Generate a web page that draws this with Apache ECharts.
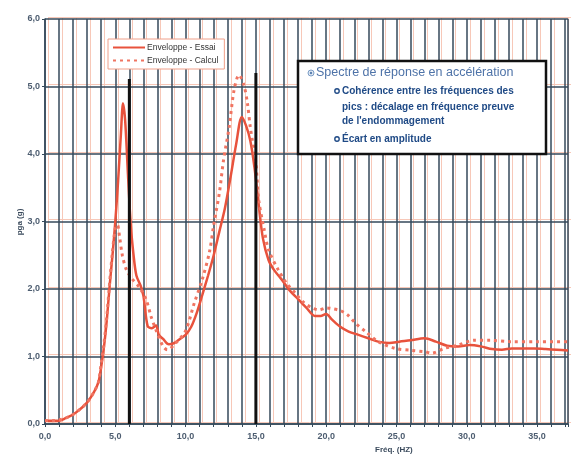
<!DOCTYPE html>
<html>
<head>
<meta charset="utf-8">
<script src="https://cdn.jsdelivr.net/npm/echarts@6/dist/echarts.min.js"></script>
<style>html,body{margin:0;padding:0;background:#fff}#c{width:571px;height:456px}</style>
</head>
<body>
<div id="c"></div>
<script>
const seriesNames = ['Enveloppe - Essai', 'Enveloppe - Calcul'];
const freqEssai = [0,0.5,1.0,1.5,2.0,2.5,3.0,3.5,3.8,4.0,4.2,4.4,4.6,4.8,5.0,5.2,5.4,5.55,5.7,5.9,6.1,6.3,6.5,6.8,7.0,7.3,7.6,7.9,8.1,8.4,8.8,9.2,9.6,10.0,10.4,10.8,11.2,11.6,12.0,12.4,12.8,13.2,13.6,14.0,14.3,14.6,14.9,15.2,15.5,15.9,16.3,16.8,17.4,18.0,18.6,19.2,19.6,20.0,20.4,21.0,21.6,22.3,23.0,23.7,24.5,25.2,26.0,27.0,27.8,28.6,29.4,30.2,31.0,31.8,32.5,33.2,34.0,34.8,35.6,36.4,37.2];
const valEssai = [0.05,0.05,0.05,0.09,0.14,0.22,0.32,0.48,0.62,0.85,1.15,1.55,2.05,2.5,3.0,3.6,4.3,4.75,4.5,3.7,2.95,2.5,2.2,2.05,1.9,1.45,1.42,1.46,1.32,1.26,1.18,1.2,1.26,1.32,1.44,1.65,1.92,2.2,2.5,2.85,3.2,3.66,4.15,4.55,4.42,4.2,3.8,3.25,2.75,2.43,2.28,2.15,1.98,1.85,1.72,1.6,1.6,1.63,1.55,1.44,1.37,1.32,1.27,1.22,1.2,1.22,1.24,1.27,1.22,1.16,1.15,1.17,1.15,1.11,1.1,1.12,1.12,1.12,1.11,1.1,1.09];
const freqCalcul = [0,0.5,1.0,1.5,2.0,2.5,3.0,3.5,3.8,4.0,4.2,4.4,4.6,4.8,5.0,5.15,5.3,5.5,5.8,6.2,6.7,7.2,7.55,7.9,8.4,8.7,9.3,10.0,10.6,11.2,11.7,12.0,12.4,12.7,13.1,13.45,13.8,14.15,14.4,14.6,15.0,15.2,15.6,15.9,16.6,17.2,17.8,18.4,19.0,19.5,20.0,20.4,21.0,21.5,22.1,22.8,23.7,24.9,26.1,27.0,27.5,28.4,29.4,30.5,31.7,33.1,35.0,37.2];
const valCalcul = [0.05,0.05,0.06,0.09,0.14,0.22,0.32,0.48,0.62,0.9,1.2,1.6,2.1,2.55,2.9,2.95,2.78,2.5,2.28,2.15,2.03,1.84,1.59,1.39,1.15,1.1,1.2,1.38,1.78,2.15,2.55,2.95,3.42,3.91,4.4,4.95,5.17,5.02,4.75,4.4,3.86,3.32,2.87,2.58,2.28,2.08,1.94,1.8,1.72,1.69,1.72,1.71,1.68,1.62,1.49,1.37,1.22,1.12,1.09,1.07,1.05,1.12,1.17,1.24,1.24,1.22,1.22,1.22];
const markerFreqs = [6, 15];
const markerTops = [5.11, 5.2];
const xTickLabels = ['0,0','5,0','10,0','15,0','20,0','25,0','30,0','35,0'];
const yTickLabels = ['0,0','1,0','2,0','3,0','4,0','5,0','6,0'];
const xName = 'Fréq. (HZ)';
const yName = 'pga (g)';
const noteTitle = 'Spectre de réponse en accélération';
const noteLines = ['Cohérence entre les fréquences des', 'pics : décalage en fréquence preuve', 'de l\'endommagement'];
const noteLast = 'Écart en amplitude';

const XMAX = 37.2;
const pairs = (xs, ys) => xs.map((x, i) => [x, ys[i]]);
const gridDark = '#34495a';
const salmon = '#f7c8b8';
const labelColor = '#4d5d70';
const font = 'Liberation Sans, Arial, sans-serif';

const markerSeries = markerFreqs.map((f, i) => ({
  type: 'line', xAxisIndex: 0, yAxisIndex: 0, data: [[f, 0], [f, markerTops[i]]],
  symbol: 'none', silent: true, z: 5,
  lineStyle: { color: '#111', width: 3 }
}));

const chart = echarts.init(document.getElementById('c'), null, { renderer: 'canvas' });
chart.setOption({
  animation: false,
  backgroundColor: '#fff',
  textStyle: { fontFamily: font },
  grid: [
    { left: 45, top: 19, width: 526, height: 405, containLabel: false },
    { left: 48, top: 17, width: 526, height: 405, containLabel: false }
  ],
  xAxis: [
    { type: 'value', gridIndex: 0, min: 0, max: XMAX, interval: 1,
      axisLine: { show: true, lineStyle: { color: gridDark, width: 1.5 } },
      axisTick: { show: true, length: 3, lineStyle: { color: gridDark } },
      splitLine: { show: true, lineStyle: { color: gridDark, width: 1.5 } },
      axisLabel: { color: labelColor, fontSize: 9, fontWeight: 'bold', margin: 8,
        formatter: v => (Math.abs(v % 5) < 1e-9 ? xTickLabels[Math.round(v / 5)] || '' : '') },
      z: 3 },
    { type: 'value', gridIndex: 1, min: 0, max: XMAX, interval: 1,
      axisLine: { show: false }, axisTick: { show: false }, axisLabel: { show: false },
      splitLine: { show: true, lineStyle: { color: salmon, width: 1 } }, z: 1 }
  ],
  yAxis: [
    { type: 'value', gridIndex: 0, min: 0, max: 6, interval: 1,
      axisLine: { show: true, lineStyle: { color: gridDark, width: 1.5 } },
      axisTick: { show: true, length: 3, lineStyle: { color: gridDark } },
      splitLine: { show: true, lineStyle: { color: gridDark, width: 1.5 } },
      axisLabel: { color: labelColor, fontSize: 9, fontWeight: 'bold', margin: 5,
        formatter: v => yTickLabels[Math.round(v)] || '' },
      z: 3 },
    { type: 'value', gridIndex: 1, min: 0, max: 6, interval: 1,
      axisLine: { show: false }, axisTick: { show: false }, axisLabel: { show: false },
      splitLine: { show: true, lineStyle: { color: salmon, width: 1 } }, z: 1 }
  ],
  legend: {
    data: seriesNames,
    orient: 'vertical', left: 108, top: 39,
    backgroundColor: '#fff', borderColor: '#f0a08a', borderWidth: 1,
    padding: [4, 6, 4, 4], itemGap: 4, itemWidth: 32, itemHeight: 10,
    itemStyle: { opacity: 0 },
    textStyle: { fontSize: 8.5, color: '#333', fontFamily: font, padding: [0, 0, 0, -3] }
  },
  series: [
    { name: seriesNames[0], type: 'line', xAxisIndex: 0, yAxisIndex: 0,
      data: pairs(freqEssai, valEssai), symbol: 'none', smooth: 0.3, z: 4,
      itemStyle: { color: '#e8523c' },
      lineStyle: { color: '#e8523c', width: 2.5 } },
    { name: seriesNames[1], type: 'line', xAxisIndex: 0, yAxisIndex: 0,
      data: pairs(freqCalcul, valCalcul), symbol: 'none', smooth: 0.3, z: 4,
      itemStyle: { color: '#f07461' },
      lineStyle: { color: '#f07461', width: 3, type: [3, 4] } },
    ...markerSeries
  ],
  graphic: [
    { type: 'text', left: 375, top: 446, style: { text: xName, fill: '#3a4a5c', font: 'bold 8px ' + font } },
    { type: 'text', x: 20, y: 222, rotation: Math.PI / 2, style: { text: yName, fill: '#3a4a5c', font: 'bold 8px ' + font, align: 'center', verticalAlign: 'middle' } },
    { type: 'rect', shape: { x: 298, y: 61, width: 248, height: 93 }, style: { fill: '#fff', stroke: '#111', lineWidth: 2.5 }, z: 10 },
    { type: 'circle', shape: { cx: 311, cy: 73, r: 3 }, style: { fill: '#dfe8f3', stroke: '#7a9cc6', lineWidth: 1 }, z: 11 },
    { type: 'circle', shape: { cx: 311, cy: 73, r: 1.2 }, style: { fill: '#5a7fb0' }, z: 11 },
    { type: 'text', x: 316, y: 73, style: { text: noteTitle, fill: '#4e73a8', font: '12.5px ' + font, verticalAlign: 'middle' }, z: 11 },
    { type: 'circle', shape: { cx: 337, cy: 91, r: 2.2 }, style: { fill: '#fff', stroke: '#1f4a86', lineWidth: 1.4 }, z: 11 },
    { type: 'text', x: 342, y: 91, style: { text: noteLines[0], fill: '#1f4a86', font: 'bold 10px ' + font, verticalAlign: 'middle' }, z: 11 },
    { type: 'text', x: 342, y: 107, style: { text: noteLines[1], fill: '#1f4a86', font: 'bold 10px ' + font, verticalAlign: 'middle' }, z: 11 },
    { type: 'text', x: 342, y: 121, style: { text: noteLines[2], fill: '#1f4a86', font: 'bold 10px ' + font, verticalAlign: 'middle' }, z: 11 },
    { type: 'circle', shape: { cx: 337, cy: 139, r: 2.2 }, style: { fill: '#fff', stroke: '#1f4a86', lineWidth: 1.4 }, z: 11 },
    { type: 'text', x: 342, y: 139, style: { text: noteLast, fill: '#1f4a86', font: 'bold 10px ' + font, verticalAlign: 'middle' }, z: 11 }
  ]
});
</script>
</body>
</html>
